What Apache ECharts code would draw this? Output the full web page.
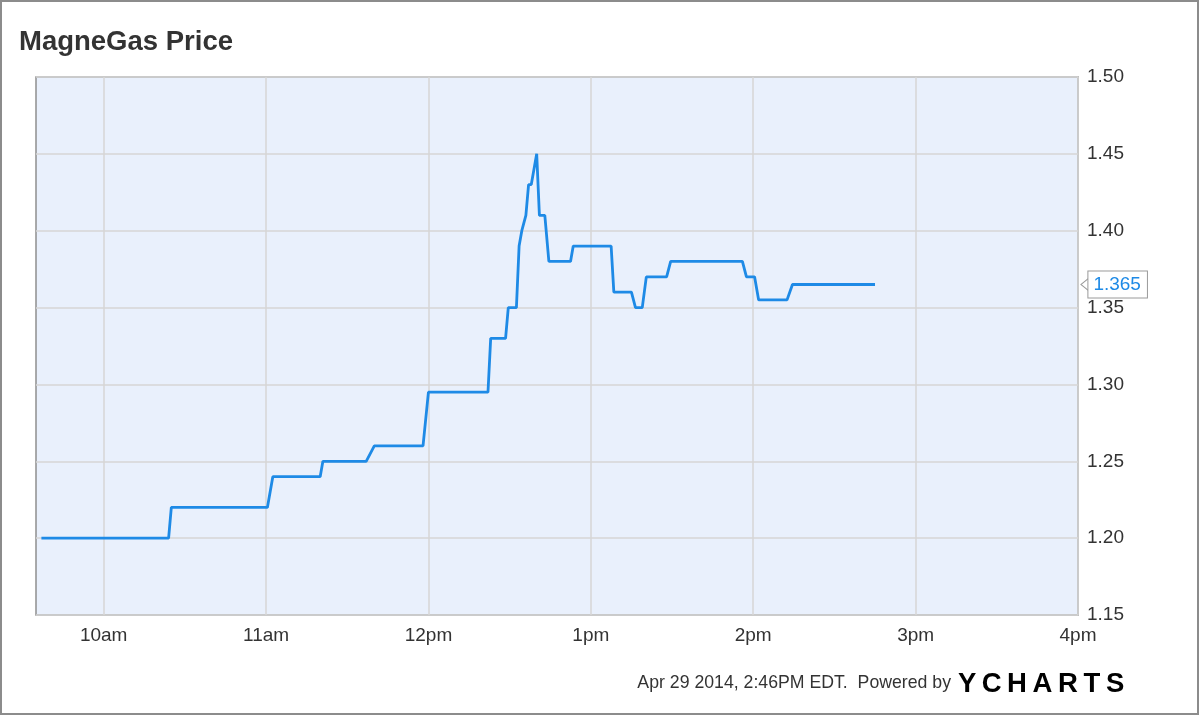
<!DOCTYPE html>
<html>
<head>
<meta charset="utf-8">
<script src="https://cdn.jsdelivr.net/npm/echarts@6/dist/echarts.min.js"></script>
<style>
html,body{margin:0;padding:0;background:#fff;}
#chart{width:1200px;height:716px;}
</style>
</head>
<body>
<div id="chart"></div>
<script>
// ---- data ----
var titleText = "MagneGas Price";
var times = ["09:37","10:24","10:25","11:00:30","11:02:30","11:20","11:21","11:37","11:40","11:58",
  "12:00","12:22","12:23","12:28:30","12:29:30","12:32:30","12:33:30","12:34:30","12:36","12:37",
  "12:38","12:40","12:41","12:43","12:44:30","12:52:30","12:53:30","13:07:30","13:08:30","13:15",
  "13:16:30","13:19","13:20:30","13:28","13:29:30","13:56","13:57:30","14:00:30","14:02","14:12:30",
  "14:14:30","14:45"];
var prices = [1.20,1.20,1.22,1.22,1.24,1.24,1.25,1.25,1.26,1.26,
  1.295,1.295,1.33,1.33,1.35,1.35,1.39,1.40,1.41,1.43,
  1.43,1.45,1.41,1.41,1.38,1.38,1.39,1.39,1.36,1.36,
  1.35,1.35,1.37,1.37,1.38,1.38,1.37,1.37,1.355,1.355,
  1.365,1.365];
var xTickTimes = ["10:00","11:00","12:00","13:00","14:00","15:00","16:00"];
var xTickLabels = ["10am","11am","12pm","1pm","2pm","3pm","4pm"];
var xStart = "09:35", xEnd = "16:00";
var yMin = 1.15, yMax = 1.50, yStep = 0.05;
var footerText = "Apr 29 2014, 2:46PM EDT.  Powered by";
var lastPrice = prices[prices.length - 1];

function toMin(s){
  var p = s.split(":");
  return (+p[0]) * 60 + (+p[1]) + (p[2] ? (+p[2]) / 60 : 0);
}
var seriesData = times.map(function(t, i){ return [toMin(t), prices[i]]; });
var tickVals = xTickTimes.map(toMin);
var labelMap = {};
tickVals.forEach(function(v, i){ labelMap[v] = xTickLabels[i]; });

var chart = echarts.init(document.getElementById('chart'), null, {renderer:'canvas'});
var font = "'Liberation Sans', Arial, sans-serif";

var option = {
  backgroundColor: '#ffffff',
  animation: false,
  title: {
    text: titleText, left: 14, top: 23,
    textStyle: {fontFamily: font, fontSize: 27.5, fontWeight: 'bold', color: '#333333'}
  },
  grid: {left: 36, right: 122, top: 77, bottom: 101, show: true,
    backgroundColor: '#e9f0fc', borderColor: '#8f8f8f', borderWidth: 1.5},
  xAxis: {
    type: 'value', min: toMin(xStart), max: toMin(xEnd),
    axisLine: {show: false},
    axisTick: {show: false, customValues: tickVals},
    axisLabel: {
      customValues: tickVals,
      formatter: function(v){ return labelMap[v] || ''; },
      fontFamily: font, fontSize: 19, color: '#333333', margin: 11
    },
    splitLine: {show: true, lineStyle: {color: '#d6d6d6', width: 1.5}}
  },
  yAxis: {
    type: 'value', position: 'right', min: yMin, max: yMax, interval: yStep,
    axisLine: {show: false}, axisTick: {show: false},
    axisLabel: {fontFamily: font, fontSize: 19, color: '#333333', margin: 9,
      formatter: function(v){ return v.toFixed(2); }},
    splitLine: {show: true, lineStyle: {color: '#d6d6d6', width: 1.5}}
  },
  series: [{
    type: 'line', data: seriesData, showSymbol: false, symbol: 'none',
    lineStyle: {color: '#1e8ae6', width: 2.8}, clip: false,
    markPoint: {
      silent: true,
      symbol: 'path://M10,0 L0,6 L10,12',
      symbolSize: [8, 13], symbolOffset: [7, 0],
      itemStyle: {color: '#ffffff', borderColor: '#9a9a9a', borderWidth: 1},
      data: [{coord: [toMin(xEnd), lastPrice], value: lastPrice}],
      label: {
        show: true, position: 'right', distance: -1,
        formatter: function(){ return lastPrice.toFixed(3); },
        fontFamily: font, fontSize: 19, color: '#1e8ae6',
        backgroundColor: '#ffffff', borderColor: '#9a9a9a', borderWidth: 1,
        padding: [4, 6, 3, 5]
      }
    }
  }],
  graphic: [
    {type: 'rect', shape: {x: 1, y: 1, width: 1197, height: 713},
      style: {fill: 'none', stroke: '#8c8c8c', lineWidth: 2}, silent: true},
    {type: 'text', right: 249, top: 674,
      style: {text: footerText, font: "17.7px 'Liberation Sans', Arial, sans-serif", fill: '#333333'}},
    {type: 'text', left: 958, top: 670,
      style: {
        text: '{y|Y}{c|C}{c|H}{c|A}{c|R}{c|T}{c|S}',
        rich: {
          y: {fontFamily: "'Liberation Sans', Arial, sans-serif", fontWeight: 'bold', fontSize: 27.5, color: '#3b8ff0', padding: [0, 2.5, 0, 0]},
          c: {fontFamily: "'Liberation Sans', Arial, sans-serif", fontWeight: 'bold', fontSize: 27.5, color: '#111111', padding: [0, 2.8, 0, 2.8]}
        }
      }}
  ]
};
chart.setOption(option);
</script>
</body>
</html>
